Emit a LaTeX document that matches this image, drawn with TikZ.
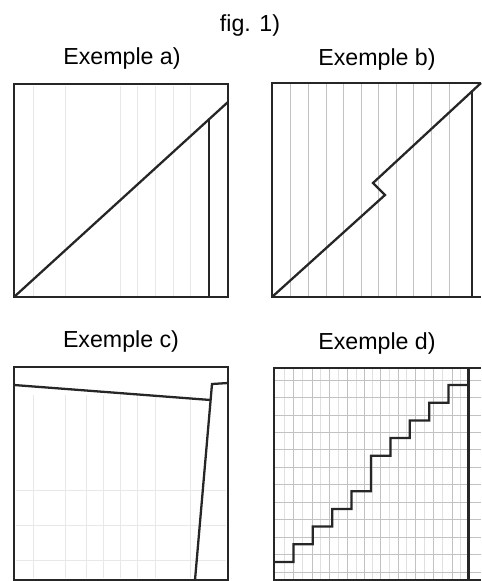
\documentclass[tikz,border=0pt]{standalone}
\usepackage{fontspec}
\setsansfont{Liberation Sans}
\usepackage{tikz}

\begin{document}
\begin{tikzpicture}[
  x=0.02cm, y=-0.02cm,
  font=\sffamily\fontsize{13.2}{15}\selectfont,
  lbl/.style={anchor=base, inner sep=0pt},
  frame/.style={line width=1.3pt, line join=miter, black!85},
  trace/.style={line width=1.3pt, line join=miter, black!85},
  gridline/.style={black!24, line width=0.4pt},
  faint/.style={black!9, line width=0.4pt}
]
\useasboundingbox (0,0) rectangle (481,581);

% --- title
\node[lbl] (fig) at (250,32) {fig. 1)};

% --- example a)
\node[lbl] (la) at (122,65) {Exemple a)};
\foreach \x in {33,65,120,137,155,173,190}
  \draw[faint] (\x,86) -- (\x,296);
\draw[frame] (14,84) rectangle (228,297);
\draw[trace] (14,297) -- (228,102);
\draw[trace] (209,297) -- (209,119.3);

% --- example b)
\node[lbl] (lb) at (377,66) {Exemple b)};
\foreach \x in {290,308,326,343,361,378,396,413,431,449}
  \draw[gridline] (\x,84) -- (\x,296);
\draw[frame] (481,83) -- (272,83) -- (272,297) -- (481,297);
\draw[trace] (272,297) -- (385,195) -- (373,183) -- (481,83);
\draw[trace] (472,297) -- (472,91.3);

% --- example c)
\node[lbl] (lc) at (121,347) {Exemple c)};
\foreach \x in {33,65,86,103,120,137,155,190}
  \draw[faint] (\x,395) -- (\x,578);
\foreach \y in {490,525,560}
  \draw[faint] (16,\y) -- (226,\y);
\draw[frame] (14,367) rectangle (228,580);
\draw[trace] (14,385) -- (210.5,400);
\draw[trace] (228,383) -- (212,384) -- (195,580);

% --- example d)
\node[lbl] (ld) at (377,349) {Exemple d)};
\foreach \x in {284,302,320,338,356,372,389,406,424,442,460}
  \draw[faint, black!12] (\x,369) -- (\x,579);
\foreach \x in {293,312,329,347,364,380,398,415,433,452}
  \draw[gridline] (\x,369) -- (\x,579);
\foreach \y in {380,397,415,432,449,467,484,502,519,537,554,572}
  \draw[gridline] (275,\y) -- (481,\y);
\draw[frame] (481,368) -- (274,368) -- (274,580) -- (481,580);
\draw[frame] (468.5,368) -- (468.5,580);
\draw[trace] (274,562)
  \foreach \i/\l in {1/1,2/2,3/3,4/4,5/6,6/7,7/8,8/9,9/10} { -| ({274+\i*19.4},{562-\l*17.7}) }
  -- (468.5,385);
\end{tikzpicture}
\end{document}
